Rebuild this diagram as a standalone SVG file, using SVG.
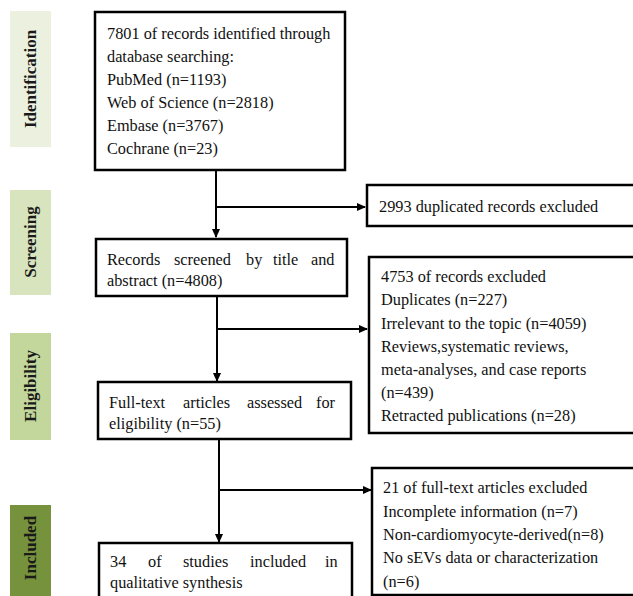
<svg xmlns="http://www.w3.org/2000/svg" width="633" height="596" viewBox="0 0 633 596">
<style>
.box{fill:#fff;stroke:#000;stroke-width:2.5}
.t{font-family:"Liberation Serif","Times New Roman",serif;font-size:16.3px;fill:#111}
.side{font-family:"Liberation Serif","Times New Roman",serif;font-size:17px;font-weight:bold;fill:#1a1a1a;text-anchor:middle}
.ln{stroke:#000;stroke-width:2;fill:none}
</style>
<defs>
<marker id="ah" markerWidth="9" markerHeight="8" refX="8" refY="4" orient="auto" markerUnits="userSpaceOnUse">
<path d="M0,0 L9,4 L0,8 Z" fill="#000"/>
</marker>
</defs>
<rect width="633" height="596" fill="#fff"/>
<g id="stage-identification">
<rect x="10" y="11" width="41" height="136" fill="#EBF1DE"/>
<text class="side" transform="translate(36,79) rotate(-90)">Identification</text>
</g>
<g id="stage-screening">
<rect x="10" y="190" width="41" height="105" fill="#D7E4BD"/>
<text class="side" transform="translate(36,242) rotate(-90)">Screening</text>
</g>
<g id="stage-eligibility">
<rect x="10" y="333" width="41" height="107" fill="#C3D69B"/>
<text class="side" transform="translate(36,386) rotate(-90)">Eligibility</text>
</g>
<g id="stage-included">
<rect x="10" y="505" width="41" height="95" fill="#76923C"/>
<text class="side" transform="translate(36,548) rotate(-90)">Included</text>
</g>
<g id="connectors">
<line class="ln" x1="216" y1="170" x2="216" y2="237" marker-end="url(#ah)"/>
<line class="ln" x1="216" y1="207" x2="365" y2="207" marker-end="url(#ah)"/>
<line class="ln" x1="217" y1="296" x2="217" y2="381" marker-end="url(#ah)"/>
<line class="ln" x1="217" y1="329" x2="367" y2="329" marker-end="url(#ah)"/>
<line class="ln" x1="219" y1="439" x2="219" y2="542" marker-end="url(#ah)"/>
<line class="ln" x1="219" y1="490" x2="371" y2="490" marker-end="url(#ah)"/>
</g>
<g id="n-identified">
<rect class="box" x="95" y="12" width="250" height="158"/>
<text class="t" x="107" y="39">7801 of records identified through</text>
<text class="t" x="107" y="62">database searching:</text>
<text class="t" x="107" y="85">PubMed (n=1193)</text>
<text class="t" x="107" y="108">Web of Science (n=2818)</text>
<text class="t" x="107" y="131">Embase (n=3767)</text>
<text class="t" x="107" y="154">Cochrane (n=23)</text>
</g>
<g id="n-duplicates">
<rect class="box" x="367" y="185" width="280" height="41"/>
<text class="t" x="379" y="212">2993 duplicated records excluded</text>
</g>
<g id="n-screened">
<rect class="box" x="96" y="239" width="251" height="57"/>
<text class="t" y="265"><tspan x="107">Records</tspan><tspan x="174">screened</tspan><tspan x="246">by</tspan><tspan x="273">title</tspan><tspan x="311">and</tspan></text>
<text class="t" x="107" y="286">abstract (n=4808)</text>
</g>
<g id="n-excluded-records">
<rect class="box" x="369" y="257" width="280" height="176"/>
<text class="t" x="381" y="282">4753 of records excluded</text>
<text class="t" x="381" y="305">Duplicates (n=227)</text>
<text class="t" x="381" y="329">Irrelevant to the topic (n=4059)</text>
<text class="t" x="381" y="352">Reviews,systematic reviews,</text>
<text class="t" x="381" y="375">meta-analyses, and case reports</text>
<text class="t" x="381" y="398">(n=439)</text>
<text class="t" x="381" y="421">Retracted publications (n=28)</text>
</g>
<g id="n-fulltext">
<rect class="box" x="98" y="382" width="253" height="57"/>
<text class="t" y="408"><tspan x="109">Full-text</tspan><tspan x="183">articles</tspan><tspan x="247">assessed</tspan><tspan x="316">for</tspan></text>
<text class="t" x="109" y="429">eligibility (n=55)</text>
</g>
<g id="n-excluded-fulltext">
<rect class="box" x="372" y="468" width="280" height="127"/>
<text class="t" x="383" y="493">21 of full-text articles excluded</text>
<text class="t" x="383" y="517">Incomplete information (n=7)</text>
<text class="t" x="383" y="540">Non-cardiomyocyte-derived(n=8)</text>
<text class="t" x="383" y="563">No sEVs data or characterization</text>
<text class="t" x="383" y="587">(n=6)</text>
</g>
<g id="n-included">
<rect class="box" x="99" y="543" width="253" height="70"/>
<text class="t" y="567"><tspan x="110">34</tspan><tspan x="148">of</tspan><tspan x="183">studies</tspan><tspan x="250">included</tspan><tspan x="325">in</tspan></text>
<text class="t" x="110" y="588">qualitative synthesis</text>
</g>
</svg>
